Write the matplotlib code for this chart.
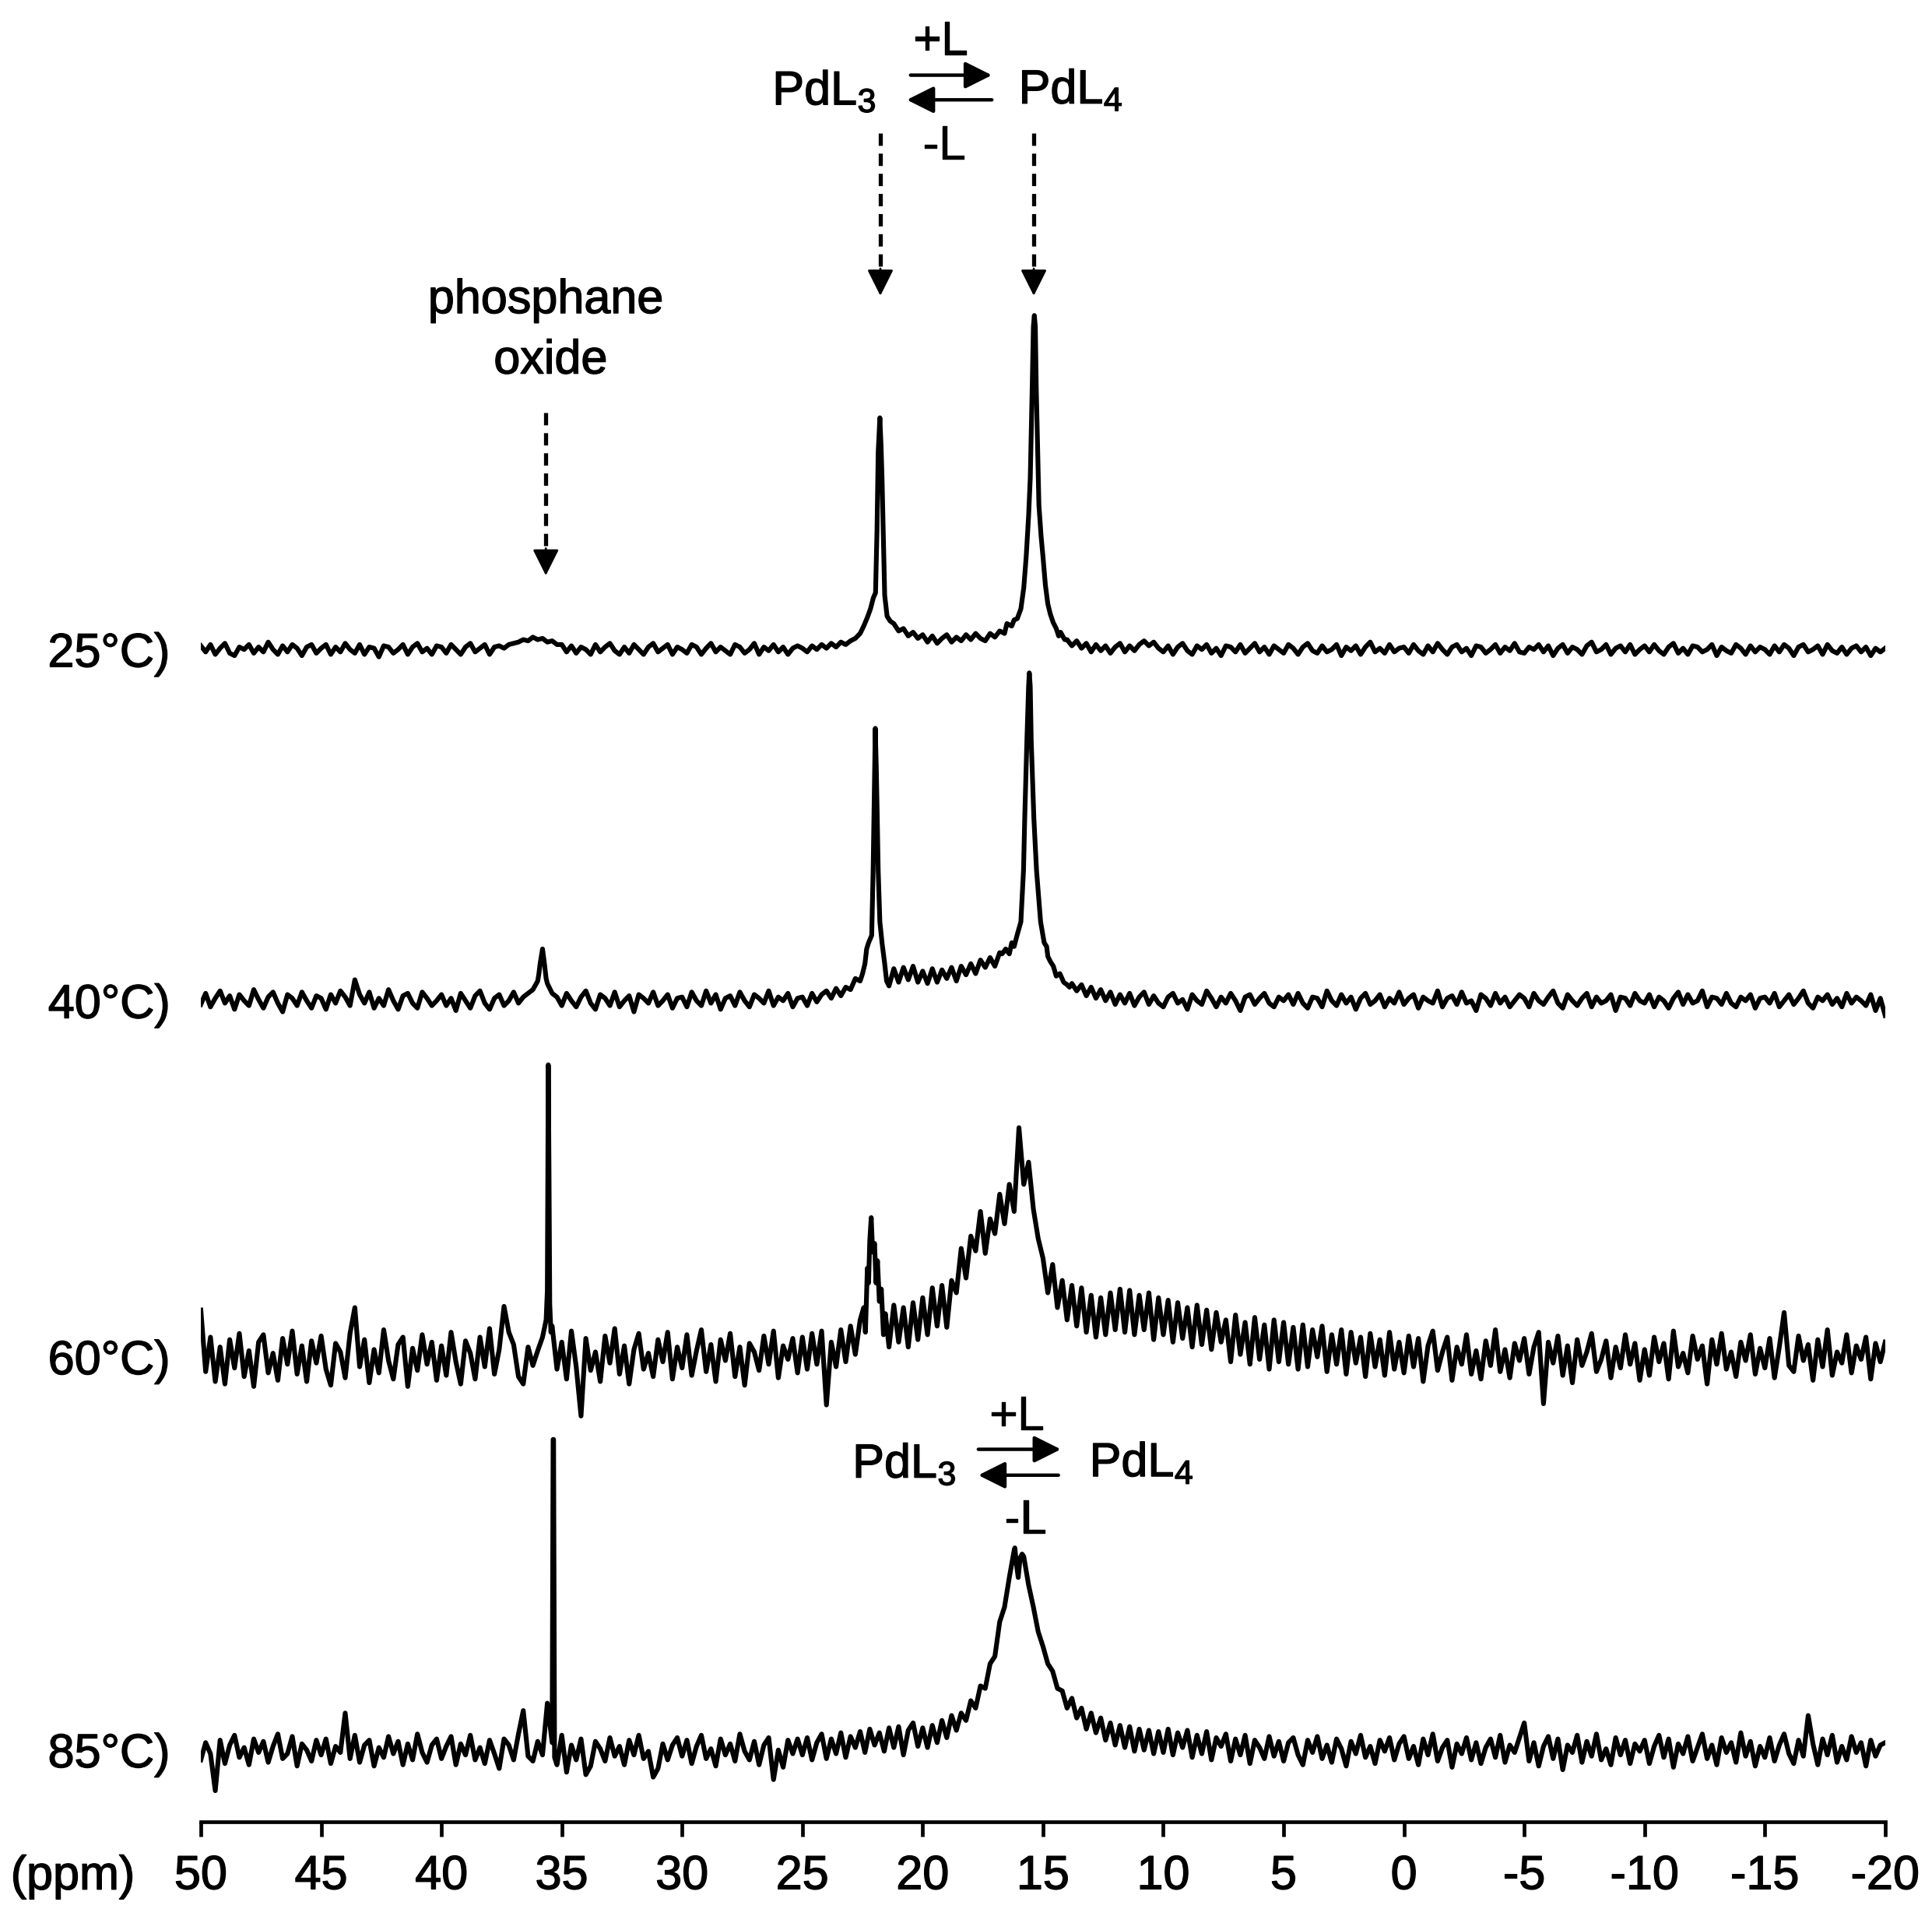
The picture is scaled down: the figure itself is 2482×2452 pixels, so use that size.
import matplotlib
matplotlib.use("Agg")
import numpy as np
import matplotlib.pyplot as plt
import matplotlib.patheffects as pe
from matplotlib.patches import FancyArrowPatch
from matplotlib.lines import Line2D
from matplotlib.transforms import blended_transform_factory

plt.rcParams["font.family"] = ["Liberation Sans", "DejaVu Sans"]
plt.rcParams["mathtext.fontset"] = "custom"
plt.rcParams["mathtext.rm"] = "Liberation Sans"
plt.rcParams["mathtext.it"] = "Liberation Sans:italic"

# ---------------- data (intensity in arbitrary units) ----------------
# shift grid: 50 -> -20 ppm, 0.2 ppm steps (351 points); one row below = 5 ppm
ppm = np.round(np.arange(50, -20.001, -0.2), 1)
tick_ppm = [50, 45, 40, 35, 30, 25, 20, 15, 10, 5, 0, -5, -10, -15, -20]
tick_labels = ["50", "45", "40", "35", "30", "25", "20", "15", "10", "5", "0", "-5", "-10", "-15", "-20"]
temps = ["25°C)", "40°C)", "60°C)", "85°C)"]

s25 = [3,-2,4,-4,1,5,-3,-5,2,0,4,-3,2,-2,6,0,-4,3,-2,4,1,-5,2,4,-3,
       1,4,-4,2,-2,5,0,-3,4,-4,2,1,-6,3,2,-3,0,4,-4,2,5,-2,1,-4,3,
       2,-3,4,0,-4,2,5,-2,1,4,-4,2,3,1,4,5,6,8,7,10,8,9,6,7,4,
       4,-2,3,-3,2,0,-4,4,-2,2,5,-1,-4,2,-3,4,0,-4,2,5,-2,1,4,-4,2,
       0,-3,4,2,-4,1,5,-2,2,-1,-4,4,2,-3,0,5,-4,2,-1,4,-2,2,-4,1,3,
       1,-2,3,0,4,1,5,2,6,4,7,9,13,20,33,46,188,86,27,21,15,17,11,14,9,
       12,6,11,5,9,12,6,10,7,12,8,13,9,7,13,10,15,13,20,25,30,55,110,270,200,
       75,37,25,17,12,8,3,7,1,5,-2,4,-1,3,-3,2,5,-2,3,-1,4,7,3,6,1,
       -2,3,-4,2,5,-1,-4,3,0,4,-3,1,-5,3,2,-2,4,-3,1,5,-2,2,-4,3,0,
       -3,4,1,-4,2,5,-1,-3,3,-2,0,4,-5,2,-1,3,-4,2,6,-2,1,-3,4,-2,1,
       2,-3,4,-1,-4,3,-2,5,0,-4,2,4,-2,1,-5,3,2,-3,0,4,-3,2,-1,5,-2,
       -3,2,0,4,-2,3,-5,1,4,-3,2,0,-4,3,6,-2,0,4,-4,1,3,-2,4,-4,0,
       3,-2,4,-1,-4,2,5,-3,1,-4,3,2,-2,0,4,-5,2,-1,-3,4,1,-4,3,-2,2,
       0,-4,3,-2,4,1,-5,2,4,-2,0,3,-4,4,-1,-3,2,-4,1,3,-2,2,-5,1,-2,
       1]
seg25 = [
    [(22.45,19),(22.3,26),(22.17,33),(22.05,42),(21.96,46),(21.9,96),(21.85,160),(21.78,188),
     (21.73,165),(21.69,139),(21.63,86),(21.58,44),(21.48,27),(21.35,23)],
    [(16.5,21),(16.3,19),(16.2,24),(16.07,25),(15.92,33),(15.8,50),(15.7,75),(15.6,108),(15.53,139),
     (15.45,212),(15.4,262),(15.36,271),(15.32,262),(15.28,212),(15.22,160),(15.17,117),(15.08,92),
     (15.0,75),(14.9,52),(14.8,37),(14.7,29),(14.58,22),(14.45,17),(14.35,11),(14.27,14),(14.1,8)],
]

s40 = [-3,6,-5,2,8,-2,4,-7,5,0,-4,9,1,-6,3,7,-2,-9,5,2,-4,7,0,-6,4,
       2,-7,5,-2,8,3,-4,17,5,-2,7,-6,2,-4,9,0,-7,4,6,-2,-6,7,2,-4,0,
       5,-4,2,-8,6,0,-6,4,8,-2,-7,2,5,-4,0,7,-2,3,6,9,16,41,14,6,3,
       -4,6,0,-5,3,8,-2,-7,5,2,-4,7,-5,0,4,-9,5,2,-2,7,-4,0,5,-6,2,
       3,-5,7,0,-4,8,-2,5,-7,2,4,-4,7,0,-5,5,2,-2,8,-4,3,0,6,-5,2,
       3,-4,6,-1,5,8,2,10,4,11,9,18,16,40,53,221,64,30,12,26,15,27,17,28,15,
       24,14,26,15,25,18,27,16,28,21,30,22,33,27,35,28,39,38,45,55,110,266,150,70,45,
       47,30,25,20,17,12,14,8,13,4,11,2,9,0,7,-3,5,-2,6,-4,3,7,-3,4,-2,
       -5,3,6,-2,1,-7,5,0,-3,8,2,-5,3,-2,6,0,-8,3,5,-3,2,6,-2,-5,3,
       0,5,-3,6,-2,-6,3,2,-5,8,0,-4,5,-2,3,-7,2,6,-3,0,5,-5,2,-2,7,
       -3,2,5,-6,3,0,-2,8,-5,2,4,-3,7,-2,0,-8,5,2,-4,6,-2,3,-5,0,5,
       2,-5,6,0,-3,3,8,-2,-6,5,0,-4,2,6,-5,3,-2,0,5,-8,3,2,-4,6,0,
       -2,5,-5,3,0,-6,2,7,-3,5,-2,0,8,-5,3,2,-3,6,-2,-5,3,0,5,-6,2,
       3,-2,6,-5,0,5,-3,2,8,-2,-6,3,0,5,-3,2,-5,6,-2,3,0,-4,5,-8,2,
       -12]
seg40 = [
    [(35.95,22),(35.9,30),(35.8,42),(35.72,30),(35.65,18)],
    [(22.5,22),(22.4,30),(22.33,42),(22.25,47),(22.12,53),(22.06,106),(22.01,169),(21.97,221),
     (21.93,190),(21.89,150),(21.85,106),(21.78,64),(21.69,47),(21.58,30),(21.5,16)],
    [(16.7,38),(16.55,42),(16.4,38),(16.3,47),(16.2,44),(16.08,53),(15.92,64),(15.81,106),(15.76,148),
     (15.67,211),(15.6,255),(15.57,266),(15.53,255),(15.49,211),(15.38,148),(15.27,106),(15.1,64),
     (14.95,47),(14.85,44),(14.8,36),(14.7,32),(14.57,28),(14.45,20),(14.3,22),(14.14,15),(14.0,13),(13.9,11)],
]

s60 = [38,-12,16,-20,8,-22,14,-9,19,-16,5,-24,12,18,-13,3,-19,15,-6,21,-14,9,-20,13,-5,
       17,-10,-23,11,4,-17,19,40,-8,14,-21,6,-13,22,-3,-18,10,16,-24,7,-11,18,-6,12,-19,
       9,-15,20,-4,-22,13,3,-18,16,-8,23,-14,6,41,20,10,-16,-22,8,-7,5,16,30,25,-10,
       12,-18,21,-8,-48,15,-11,4,-20,17,-5,23,-14,9,-22,6,19,-10,3,-16,14,-4,20,-18,8,
       -9,18,-15,5,22,-12,10,-20,14,-3,19,-16,8,-23,11,4,-11,17,-6,21,-17,9,-2,15,-13,
       16,-10,19,-6,21,-39,12,-8,22,-4,25,2,30,35,90,113,60,50,8,42,12,40,8,44,14,
       48,18,56,25,58,24,62,52,88,64,98,86,118,84,112,100,132,108,140,118,186,140,158,120,96,
       80,52,75,40,62,30,58,25,56,20,50,16,48,18,52,22,55,20,54,18,50,22,52,14,48,
       18,46,12,44,15,40,8,42,10,38,6,36,12,30,-4,34,2,28,-6,32,-2,26,-10,30,-4,
       28,-6,24,-10,26,-8,22,0,25,-12,18,-6,22,-14,20,-5,16,-16,19,-8,14,-15,20,-10,12,
       -13,17,-8,15,-20,9,21,-11,4,16,-19,8,-6,18,-14,5,-18,13,-7,22,-12,6,-17,11,-3,
       15,-14,8,20,-38,12,-5,17,-15,9,-21,14,-7,4,19,-12,-2,13,-17,8,-9,18,-6,11,-19,
       6,-15,16,-4,11,-18,21,-8,3,-13,17,-2,9,-22,14,-6,19,-10,4,-16,12,-3,18,-14,7,
       -9,15,-17,8,36,-7,-12,17,-3,10,-19,14,-8,22,-15,4,-5,18,-13,9,-2,16,-18,11,-4,
       12]
seg60 = [
    [(35.65,30),(35.6,54),(35.58,150),(35.56,237),(35.53,150),(35.5,43),(35.45,20)],
    [(22.45,40),(22.38,20),(22.3,72),(22.25,60),(22.2,94),(22.14,113),(22.08,85),(22.0,92),
     (21.94,60),(21.88,78),(21.8,45),(21.72,55),(21.63,18),(21.55,35)],
]

s85 = [-8,6,-3,-33,8,-11,4,12,-6,2,-12,9,-2,7,-10,3,13,-7,-3,11,-13,5,0,-9,8,
       -4,9,-11,3,-2,30,-7,12,-10,4,8,-13,2,-6,11,-3,7,-12,5,-8,13,-2,-10,4,9,
       -7,3,11,-12,5,-4,12,-8,2,-11,8,-3,-15,9,4,-8,13,32,-5,-9,7,-4,38,100,-12,
       12,-18,4,-8,9,-20,-13,7,1,-9,10,-5,3,-12,8,-4,12,-7,-1,-22,-15,5,-8,4,10,
       -5,8,-11,3,12,-7,1,-13,9,-4,5,-9,13,-1,-8,7,-12,4,10,-24,0,-14,8,-3,9,
       -4,10,-8,6,13,-7,9,-3,14,-6,11,2,15,-2,17,4,14,-1,18,2,19,-4,16,22,3,
       18,2,20,6,24,10,28,16,30,24,40,34,52,50,70,76,104,116,140,162,145,157,134,116,96,
       84,70,64,50,48,34,42,26,34,17,30,14,26,8,22,4,20,2,19,-1,17,0,16,-3,15,
       -2,17,-4,14,2,16,-6,12,-3,15,-8,10,3,13,-9,9,-4,12,-11,8,2,-7,11,-5,7,
       -9,6,10,-4,-12,8,-2,11,-7,4,-10,9,1,-13,7,-3,12,-6,3,-11,8,-1,10,-8,5,
       11,-7,3,-12,9,-4,13,-9,2,8,-14,5,-3,10,-8,6,-11,2,9,-6,12,-10,4,-2,10,
       22,-9,6,-13,3,11,-7,9,-16,4,-2,12,-10,7,-5,13,-8,1,-12,10,-4,8,-11,5,-1,
       8,-11,3,12,-6,9,-14,5,-3,11,-9,2,13,-7,4,-12,10,-2,6,-10,14,-5,7,-13,3,
       -6,10,-9,4,13,-3,-11,8,-5,28,5,-12,9,-4,12,-10,3,-8,11,-2,6,-13,8,-5,4,
       6]
seg85 = [
    [(35.4,6),(35.36,252),(35.34,252),(35.3,-6)],
    [(16.17,164),(16.1,150),(16.03,140),(15.95,156),(15.87,159)],
]

spectra = [s25, s40, s60, s85]
segments = [seg25, seg40, seg60, seg85]

# ---------------- layout (reference px of a 1568 x 1549 view) ----------------
RW, RH = 1568.0, 1549.0
AX_L, AX_R, AX_Y = 163, 1530, 1478        # x of 50 ppm / -20 ppm, y of axis line
BASE_Y = [527, 812, 1101, 1420]           # baseline y of each trace
FS = 44
LW = 4.4
HEAVY = [pe.withStroke(linewidth=1.0, foreground="black")]

def fx(x): return x / RW
def fy(y): return 1 - y / RH

def merged(vals, segs):
    vals = np.asarray(vals, float)
    keep = np.ones(len(ppm), bool)
    xs, ys = [], []
    for seg in segs:
        sx = [p[0] for p in seg]
        keep &= ~((ppm <= max(sx) + 1e-6) & (ppm >= min(sx) - 1e-6))
        xs += sx
        ys += [p[1] for p in seg]
    X = np.concatenate([ppm[keep], xs])
    Y = np.concatenate([vals[keep], ys])
    o = np.argsort(-X, kind="stable")
    return X[o], Y[o]

fig = plt.figure(figsize=(24.82, 24.52), dpi=100)
ax = fig.add_axes([fx(AX_L), fy(AX_Y), (AX_R - AX_L) / RW, AX_Y / RH])
ax.set_xlim(50, -20)
ax.set_ylim(0, AX_Y)

for vals, segs, by in zip(spectra, segments, BASE_Y):
    assert len(vals) == len(ppm)
    X, Y = merged(vals, segs)
    ax.plot(X, (AX_Y - by) + Y, color="black", lw=LW)

for s in ("top", "left", "right"):
    ax.spines[s].set_visible(False)
ax.spines["bottom"].set_linewidth(3.4)
ax.set_yticks([])
ax.set_xticks(tick_ppm)
ax.set_xticklabels(tick_labels)
ax.tick_params(axis="x", direction="out", length=13.7, width=3.4, pad=17, labelsize=FS)
for lbl in ax.get_xticklabels():
    lbl.set_path_effects(HEAVY)

# temperature labels
tr = blended_transform_factory(fig.transFigure, ax.transData)
for t, by in zip(temps, BASE_Y):
    ax.text(fx(138), (AX_Y - by) - 14, t, transform=tr, ha="right", va="baseline",
            fontsize=FS, clip_on=False, path_effects=HEAVY)
fig.text(fx(59), fy(1533), "(ppm)", ha="center", va="baseline", fontsize=FS, path_effects=HEAVY)

def label(x, y, s):
    fig.text(fx(x), fy(y), s, ha="center", va="baseline", fontsize=FS, path_effects=HEAVY)

def head_arrow(x0, y0, x1, y1, lw=3.2):
    fig.add_artist(FancyArrowPatch((fx(x0), fy(y0)), (fx(x1), fy(y1)), transform=fig.transFigure,
                                   arrowstyle="-|>,head_length=21,head_width=10.5", mutation_scale=1,
                                   lw=lw, color="black", shrinkA=0, shrinkB=0))

def dashed_arrow(x, y0, y1):
    fig.add_artist(Line2D([fx(x), fx(x)], [fy(y0), fy(y1 - 14)], transform=fig.transFigure,
                          color="black", lw=3.8, dashes=(3.0, 1.9)))
    head_arrow(x, y1 - 22, x, y1, lw=2.0)

# equilibrium, top
label(669, 85, r"PdL$_\mathregular{3}$")
label(869, 84, r"PdL$_\mathregular{4}$")
label(763, 44, "+L")
label(766, 129, "-L")
head_arrow(739, 61, 805, 61)
head_arrow(805, 81, 736, 81)
dashed_arrow(714.5, 108, 240)
dashed_arrow(839, 108, 240)

# phosphane oxide
label(443, 254, "phosphane")
label(447, 303, "oxide")
dashed_arrow(443, 335, 467)

# equilibrium, 85 °C trace
label(734, 1199, r"PdL$_\mathregular{3}$")
label(926.5, 1198, r"PdL$_\mathregular{4}$")
label(825, 1160, "+L")
label(832, 1244, "-L")
head_arrow(794, 1176, 861, 1176)
head_arrow(859, 1197, 794, 1197)

fig.savefig("out.png", dpi=100)
